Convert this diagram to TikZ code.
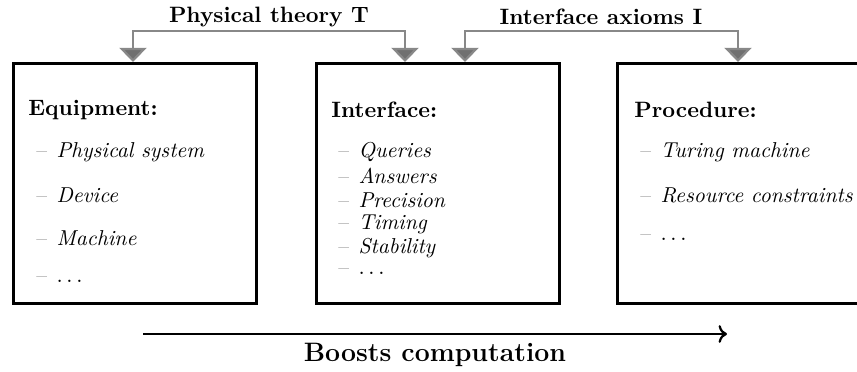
\documentclass[tikz,border=0pt]{standalone}
\usetikzlibrary{arrows.meta}
\definecolor{conncol}{HTML}{888888}
\definecolor{tipcol}{HTML}{707070}
\begin{document}
\begin{tikzpicture}[x=0.45pt,y=-0.45pt,
  box/.style={draw,line width=1.3pt,anchor=north west,minimum width=243*0.45pt,minimum height=240*0.45pt,inner sep=0pt},
  head/.style={anchor=west,inner sep=0pt,font=\bfseries},
  item/.style={anchor=west,inner sep=0pt,font=\fontsize{9.7}{12}\selectfont},
  conn/.style={draw=conncol,line width=1pt,
    {Triangle[width=12.2pt,length=6.4pt,fill=tipcol]}-{Triangle[width=12.2pt,length=6.4pt,fill=tipcol]}},
  toplab/.style={font=\bfseries,inner sep=0pt}]
\useasboundingbox (0,0) rectangle (857,371);
\clip (0,0) rectangle (857,371);
\newcommand{\itm}[1]{\textcolor{gray}{--}\hspace{4.2pt}\textit{#1}}
% boxes
\node[box] (box1) at (12,62) {};
\node[box] (box2) at (315,62) {};
\node[box] (box3) at (616,62) {};
% box 1
\node[head] (h1) at (28,110) {Equipment:};
\node[item] (e1) at (36,152) {\itm{Physical system}};
\node[item] (e2) at (36,195) {\itm{Device}};
\node[item] (e3) at (36,238) {\itm{Machine}};
\node[item] (e4) at (36,280) {\itm{$\ldots$}};
% box 2
\node[head] (h2) at (331,110) {Interface:};
\node[item] (i1) at (338,152) {\itm{Queries}};
\node[item] (i2) at (338,176) {\itm{Answers}};
\node[item] (i3) at (338,200) {\itm{Precision}};
\node[item] (i4) at (338,224) {\itm{Timing}};
\node[item] (i5) at (338,248) {\itm{Stability}};
\node[item] (i6) at (338,272) {\itm{$\ldots$}};
% box 3
\node[head] (h3) at (634,110) {Procedure:};
\node[item] (p1) at (640,152) {\itm{Turing machine}};
\node[item] (p2) at (640,195) {\itm{Resource constraints}};
\node[item] (p3) at (640,238) {\itm{$\ldots$}};
% top connectors
\coordinate (t1) at (133,62);
\coordinate (t2) at (405,62);
\coordinate (t3) at (465,62);
\coordinate (t4) at (738,62);
\draw[conn] (t1) -- ++(0,-31) -| (t2);
\draw[conn] (t3) -- ++(0,-31) -| (t4);
\node[toplab] (l1) at (269,17) {Physical theory T};
\node[toplab] (l2) at (601,17) {Interface axioms I};
% bottom arrow
\coordinate (a0) at (143,334);
\coordinate (a1) at (727,334);
\draw[line width=1pt,->] (a0) -- (a1);
\node[font=\large\bfseries,inner sep=0pt] (l3) at (435,355) {Boosts computation};
\end{tikzpicture}
\end{document}
